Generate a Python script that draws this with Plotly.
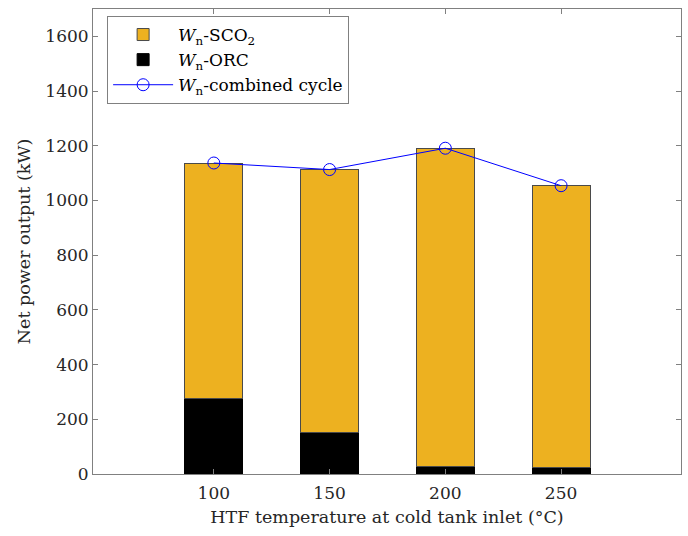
import plotly.graph_objects as go

temps = [100, 150, 200, 250]
w_orc = [276, 153, 26, 23]
w_sco2 = [861, 960, 1165, 1031]
w_combined = [1137, 1113, 1191, 1054]
y_ticks = [0, 200, 400, 600, 800, 1000, 1200, 1400, 1600]

FONT = "DejaVu Serif"
AX = "#808080"

fig = go.Figure()
fig.add_trace(go.Bar(
    x=temps, y=w_orc, width=25, name="<i>W</i><sub>n</sub>-ORC",
    marker=dict(color="#000000", line=dict(color="#000000", width=1)),
    legendrank=2,
))
fig.add_trace(go.Bar(
    x=temps, y=w_sco2, width=25, name="<i>W</i><sub>n</sub>-SCO<sub>2</sub>",
    marker=dict(color="#EDB120", line=dict(color="#4a4a4a", width=1)),
    legendrank=1,
))
fig.add_trace(go.Scatter(
    x=temps, y=w_combined, mode="lines+markers",
    name="<i>W</i><sub>n</sub>-combined cycle",
    line=dict(color="#0000FF", width=1),
    marker=dict(symbol="circle-open", size=12, color="#0000FF", line=dict(width=1)),
    legendrank=3,
))

fig.update_layout(
    width=688, height=536,
    margin=dict(l=93, r=7, t=9, b=62),
    barmode="stack",
    plot_bgcolor="white", paper_bgcolor="white",
    font=dict(family=FONT, size=17, color="#262626"),
    showlegend=True,
    legend=dict(
        x=0.024, y=0.985, xanchor="left", yanchor="top",
        traceorder="normal",
        bordercolor=AX, borderwidth=1, bgcolor="white",
        font=dict(family=FONT, size=17, color="#000000"),
        itemwidth=60, tracegroupgap=0,
    ),
    xaxis=dict(
        range=[47.8, 301.8], tickvals=temps, ticktext=[str(t) for t in temps],
        showline=True, linecolor=AX, linewidth=1, mirror="ticks",
        ticks="inside", ticklen=5, tickcolor=AX, showgrid=False, zeroline=False,
        ticklabelstandoff=4,
        title=dict(text="HTF temperature at cold tank inlet (°C)", font=dict(family=FONT, size=17.5), standoff=8),
        tickfont=dict(family=FONT, size=17),
    ),
    yaxis=dict(
        range=[0, 1700], tickvals=y_ticks,
        showline=True, linecolor=AX, linewidth=1, mirror="ticks",
        ticks="inside", ticklen=5, tickcolor=AX, showgrid=False, zeroline=False,
        title=dict(text="Net power output (kW)", font=dict(family=FONT, size=17.5), standoff=10),
        tickfont=dict(family=FONT, size=17),
    ),
)

fig.write_html("out.html")
